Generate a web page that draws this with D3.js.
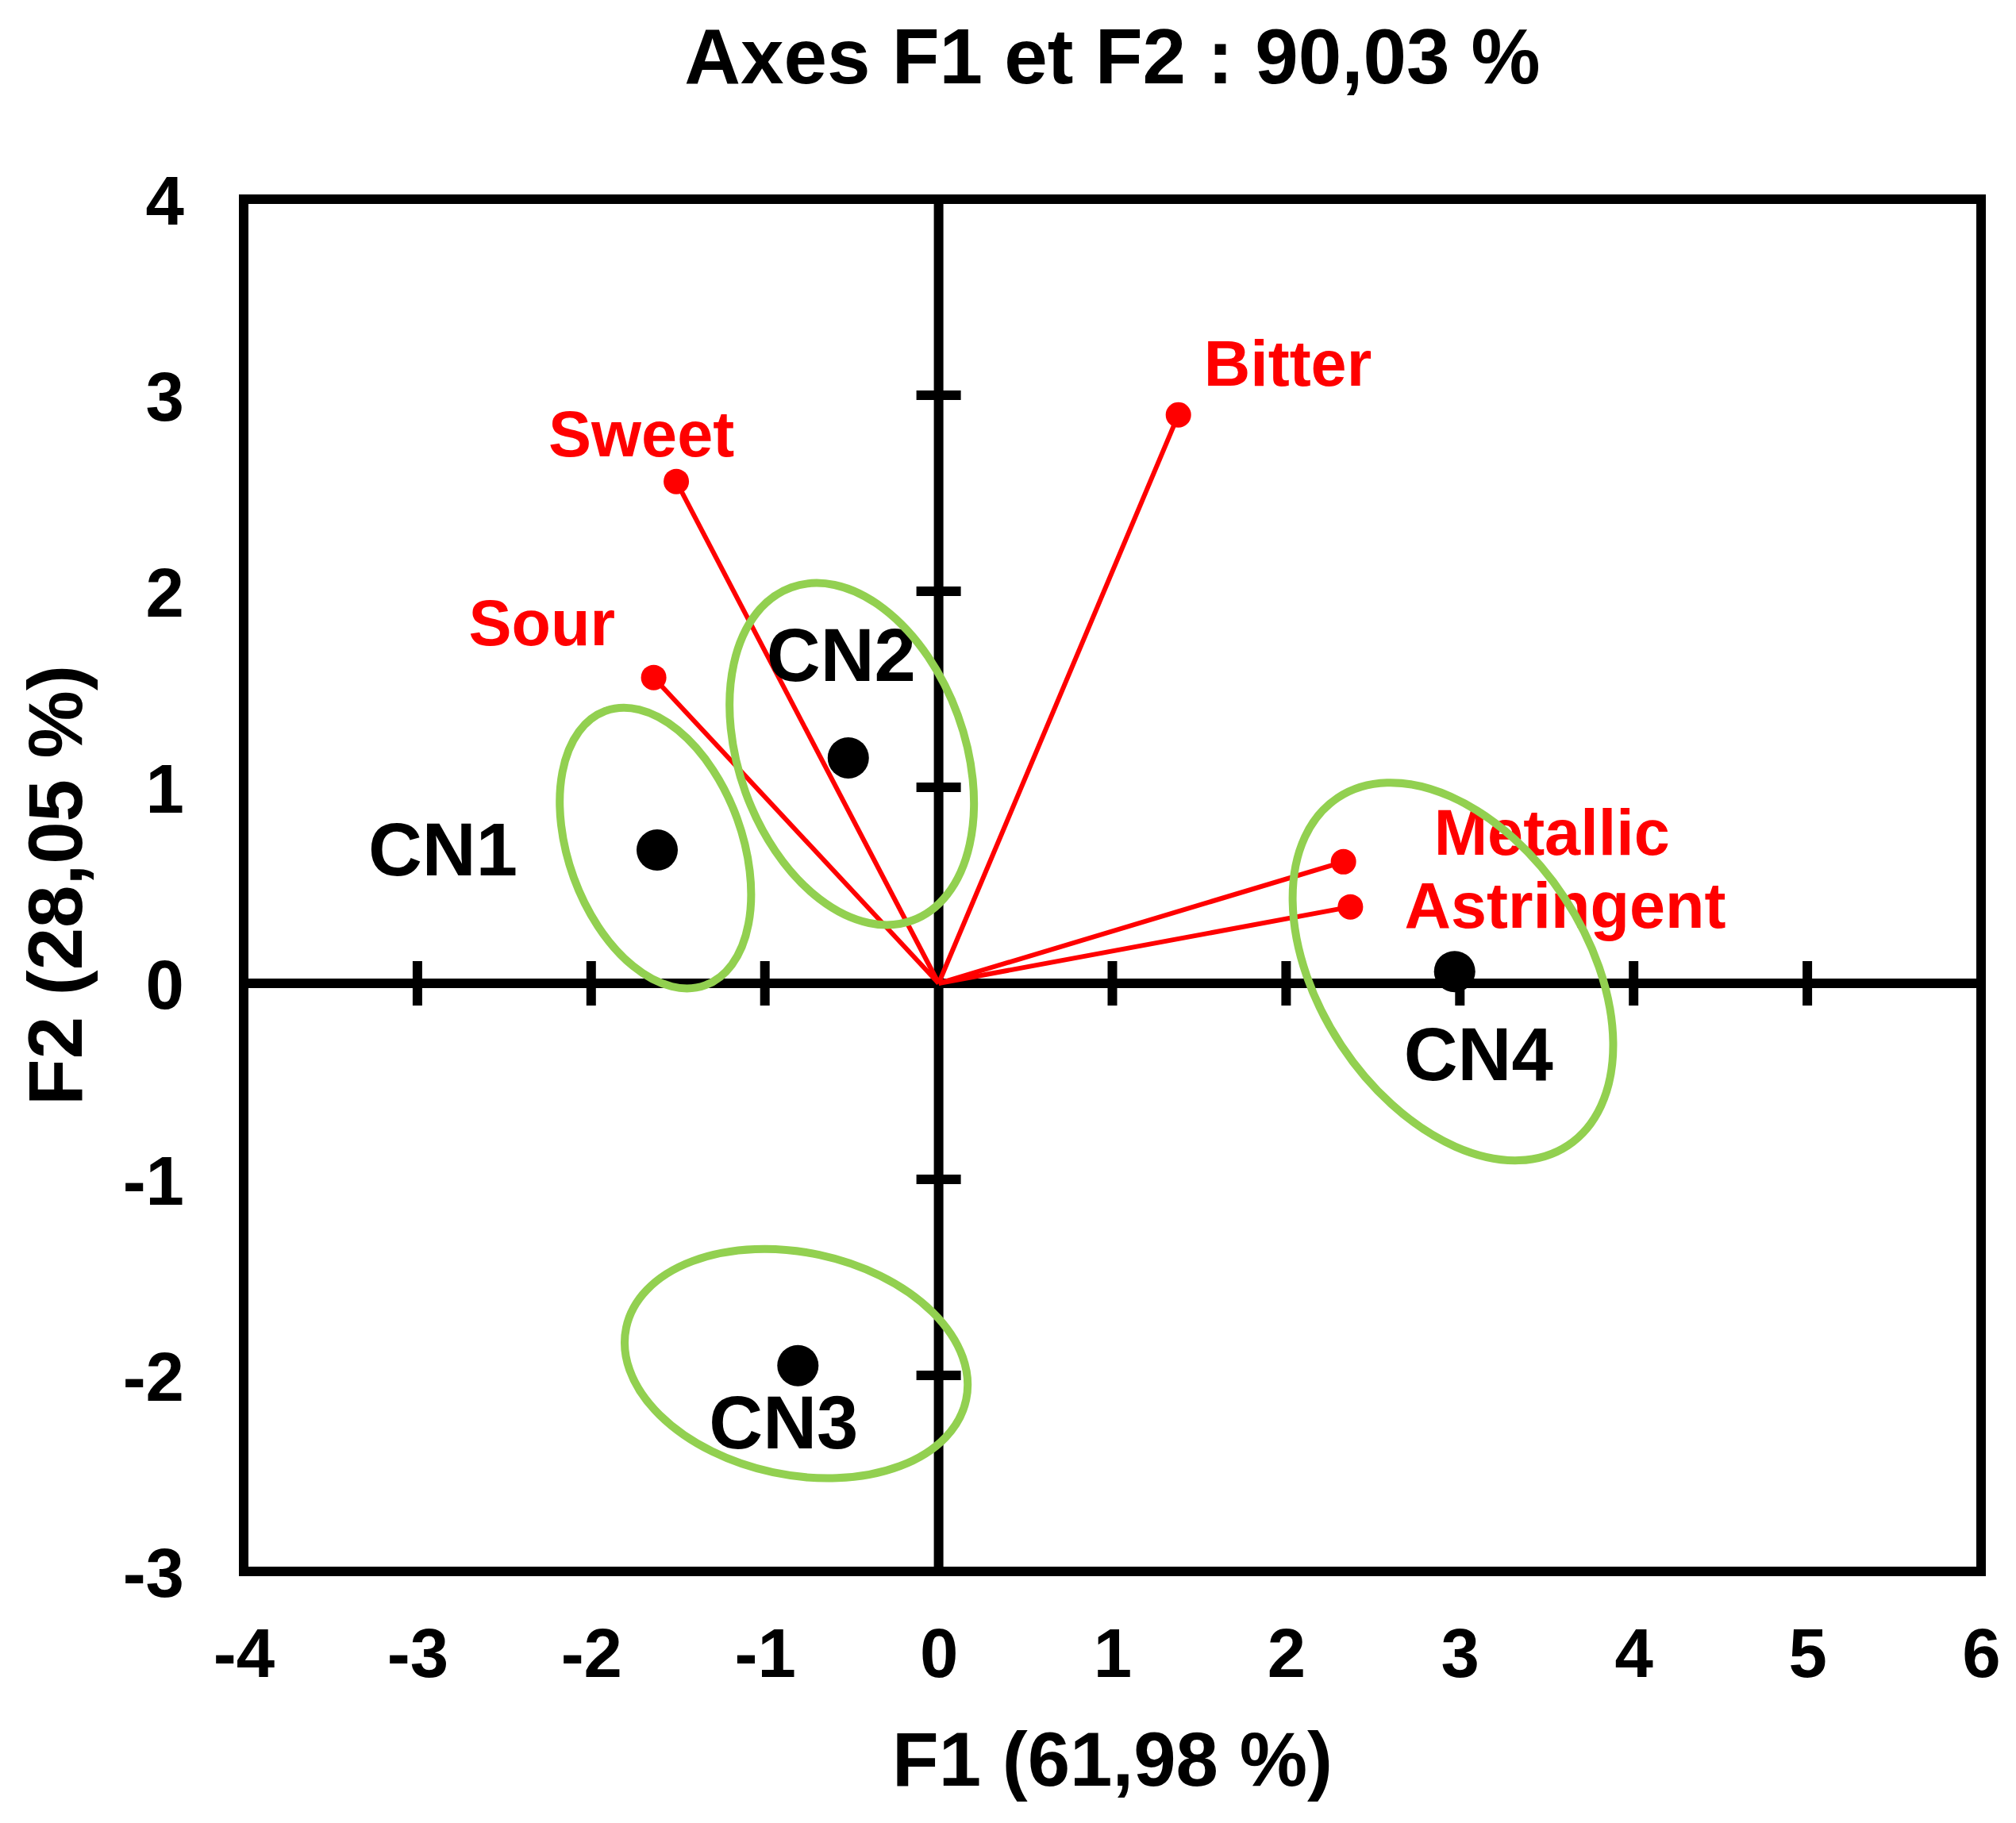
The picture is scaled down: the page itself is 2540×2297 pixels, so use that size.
<!DOCTYPE html>
<html>
<head>
<meta charset="utf-8">
<script src="https://cdn.jsdelivr.net/npm/d3@7"></script>
<style>
  body { margin: 0; background: #fff; }
  text { font-family: "Liberation Sans", Arial, sans-serif; font-weight: bold; }
  .frame { fill: none; stroke: #000; stroke-width: 12; }
  .zero { stroke: #000; stroke-width: 12; }
  .tick-mark { stroke: #000; stroke-width: 12; }
  .vec { stroke: #ff0000; stroke-width: 6; }
  .tip { fill: #ff0000; }
  .var-label { fill: #ff0000; font-size: 81px; }
  .ind { fill: #000; }
  .ind-label { fill: #000; font-size: 94px; }
  .ell { fill: none; stroke: #92d050; stroke-width: 10; }
  .axis text { font-size: 87px; fill: #000; }
</style>
</head>
<body>
<svg width="2540" height="2297"></svg>
<script>
// axis ticks
const xTicks = [-4, -3, -2, -1, 0, 1, 2, 3, 4, 5, 6]
const yTicks = [-3, -2, -1, 0, 1, 2, 3, 4]

// observations (F1, F2)
const individuals = ["CN1", "CN2", "CN3", "CN4"]
const indF1 = [-1.62, -0.52, -0.81, 2.97]
const indF2 = [0.68, 1.15, -1.95, 0.06]

// variables (F1, F2)
const variables = ["Sweet", "Sour", "Bitter", "Metallic", "Astringent"]
const varF1 = [-1.51, -1.64, 1.38, 2.33, 2.37]
const varF2 = [2.56, 1.56, 2.90, 0.62, 0.39]

// group ellipses: centre, semi axes (F1 units), rotation in degrees
const ellCx = [-1.63, -0.50, -0.82, 2.96]
const ellCy = [0.69, 1.17, -1.94, 0.06]
const ellRx = [0.50, 0.65, 1.00, 0.77]
const ellRy = [0.84, 1.02, 0.64, 1.20]
const ellAngle = [-20, -20, 12, -33.5]

const svg = d3.select("svg"),
      margin = {top: 251, right: 44, bottom: 317, left: 307},
      width = 2540 - margin.left - margin.right,
      height = 2297 - margin.top - margin.bottom,
      g = svg.append("g").attr("transform", "translate(" + margin.left + "," + margin.top + ")")

const x = d3.scaleLinear().domain([-4, 6]).range([0, width]),
      y = d3.scaleLinear().domain([-3, 4]).range([height, 0])

const unit = x(1) - x(0)

// label placement in px from the marker (dx, baseline dy)
const varLabelPos = {
  Sweet: [-161, -32], Sour: [-233, -41], Bitter: [32, -37],
  Metallic: [114, -9], Astringent: [68, 26]
}
const indLabelPos = {
  CN1: ["end", -176, 32], CN2: ["start", -103, -97],
  CN3: ["start", -112, 104], CN4: ["start", -64, 137]
}

// plain hyphen for negatives, like the original
const fmt = d => String(d)

// tick labels via d3 axes
const xAxis = g.append("g")
  .attr("class", "axis")
  .attr("transform", "translate(0," + height + ")")
  .call(d3.axisBottom(x).tickValues(xTicks).tickSize(0).tickFormat(fmt))
xAxis.select(".domain").remove()
xAxis.selectAll("text").attr("y", 133).attr("dy", null)

const yAxis = g.append("g")
  .attr("class", "axis")
  .call(d3.axisLeft(y).tickValues(yTicks).tickSize(0).tickPadding(75).tickFormat(fmt))
yAxis.select(".domain").remove()
yAxis.selectAll("text").attr("dy", "0.36em")

// zero lines
g.append("line").attr("class", "zero")
  .attr("x1", 0).attr("x2", width).attr("y1", y(0)).attr("y2", y(0))
g.append("line").attr("class", "zero")
  .attr("x1", x(0)).attr("x2", x(0)).attr("y1", 0).attr("y2", height)

// cross ticks on the zero lines
g.selectAll(".xt")
  .data(xTicks.filter(d => d !== 0 && d > -4 && d < 6))
  .enter().append("line")
    .attr("class", "tick-mark")
    .attr("x1", d => x(d)).attr("x2", d => x(d))
    .attr("y1", y(0) - 28).attr("y2", y(0) + 28)

g.selectAll(".yt")
  .data(yTicks.filter(d => d !== 0 && d > -3 && d < 4))
  .enter().append("line")
    .attr("class", "tick-mark")
    .attr("y1", d => y(d)).attr("y2", d => y(d))
    .attr("x1", x(0) - 28).attr("x2", x(0) + 28)

// frame
g.append("rect").attr("class", "frame")
  .attr("x", 0).attr("y", 0).attr("width", width).attr("height", height)

// variable vectors
const vars = variables.map((id, i) => ({id: id, f1: varF1[i], f2: varF2[i]}))

g.selectAll(".vec")
  .data(vars)
  .enter().append("line")
    .attr("class", "vec")
    .attr("x1", x(0)).attr("y1", y(0))
    .attr("x2", d => x(d.f1)).attr("y2", d => y(d.f2))

g.selectAll(".tip")
  .data(vars)
  .enter().append("circle")
    .attr("class", "tip")
    .attr("cx", d => x(d.f1)).attr("cy", d => y(d.f2))
    .attr("r", 16)

g.selectAll(".var-label")
  .data(vars)
  .enter().append("text")
    .attr("class", "var-label")
    .attr("x", d => x(d.f1) + varLabelPos[d.id][0])
    .attr("y", d => y(d.f2) + varLabelPos[d.id][1])
    .text(d => d.id)

// observations
const inds = individuals.map((id, i) => ({id: id, f1: indF1[i], f2: indF2[i]}))

g.selectAll(".ind")
  .data(inds)
  .enter().append("circle")
    .attr("class", "ind")
    .attr("cx", d => x(d.f1)).attr("cy", d => y(d.f2))
    .attr("r", 26)

g.selectAll(".ind-label")
  .data(inds)
  .enter().append("text")
    .attr("class", "ind-label")
    .attr("text-anchor", d => indLabelPos[d.id][0])
    .attr("x", d => x(d.f1) + indLabelPos[d.id][1])
    .attr("y", d => y(d.f2) + indLabelPos[d.id][2])
    .text(d => d.id)

// ellipses
const ells = ellCx.map((cx, i) => ({cx: cx, cy: ellCy[i], rx: ellRx[i], ry: ellRy[i], a: ellAngle[i]}))

g.selectAll(".ell")
  .data(ells)
  .enter().append("ellipse")
    .attr("class", "ell")
    .attr("rx", d => d.rx * unit)
    .attr("ry", d => d.ry * unit)
    .attr("transform", d => "translate(" + x(d.cx) + "," + y(d.cy) + ") rotate(" + d.a + ")")

// titles
svg.append("text")
  .attr("x", margin.left + width / 2).attr("y", 105)
  .attr("text-anchor", "middle")
  .style("font-size", "98px")
  .text("Axes F1 et F2 : 90,03 %")

svg.append("text")
  .attr("x", margin.left + width / 2).attr("y", 2250)
  .attr("text-anchor", "middle")
  .style("font-size", "96px")
  .text("F1 (61,98 %)")

svg.append("text")
  .attr("transform", "translate(103," + (margin.top + height / 2) + ") rotate(-90)")
  .attr("text-anchor", "middle")
  .style("font-size", "96px")
  .text("F2 (28,05 %)")
</script>
</body>
</html>
